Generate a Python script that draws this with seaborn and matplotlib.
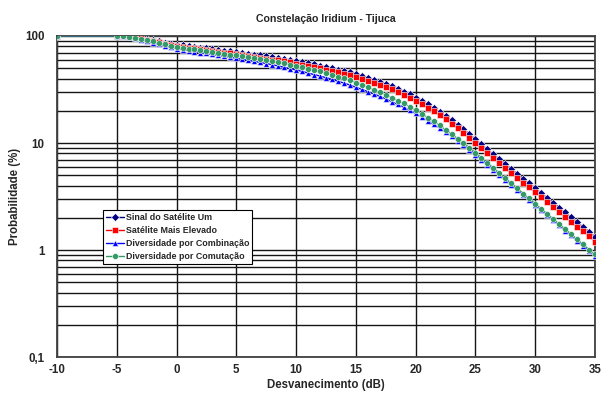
import numpy as np
import pandas as pd
import matplotlib
matplotlib.use("Agg")
import matplotlib.pyplot as plt
from matplotlib.ticker import FixedLocator, FixedFormatter, LogLocator, NullFormatter
import seaborn as sns

# Fade depth (dB): -10, then every 0.5 dB from -5 to 35
fade_db = [-10.0] + [-5.0 + 0.5 * i for i in range(81)]

sinal_um = [100.0,
    100.0, 99.8, 99.1, 97.7, 96.0, 93.5, 91.2, 88.9, 86.9, 84.9,
    83.2, 81.8, 80.5, 79.3, 78.0, 76.7, 75.5, 74.3, 73.1, 71.9,
    70.8, 69.5, 68.2, 67.0, 65.8, 64.6, 63.4, 62.2, 61.0, 59.7,
    58.3, 57.0, 55.6, 54.2, 52.8, 51.4, 50.0, 48.5, 47.1, 45.6,
    44.2, 42.5, 40.7, 39.0, 37.3, 35.6, 33.9, 32.0, 30.2, 28.4,
    26.6, 24.7, 22.9, 21.1, 19.5, 17.9, 16.3, 14.8, 13.4, 12.1,
    10.8, 9.7, 8.71, 7.83, 7.05, 6.34, 5.70, 5.14, 4.63, 4.19,
    3.78, 3.40, 3.07, 2.77, 2.49, 2.25, 2.02, 1.82, 1.64, 1.48,
    1.33]

mais_elevado = [100.0,
    100.0, 99.8, 98.9, 97.1, 95.1, 92.2, 89.5, 87.0, 84.7, 82.6,
    80.7, 79.3, 77.9, 76.6, 75.2, 73.8, 72.6, 71.3, 70.0, 68.8,
    67.6, 66.3, 65.0, 63.9, 62.7, 61.5, 60.3, 59.1, 57.9, 56.7,
    55.3, 54.0, 52.7, 51.3, 49.9, 48.6, 47.2, 45.8, 44.4, 43.0,
    41.6, 40.0, 38.3, 36.7, 35.0, 33.4, 31.8, 30.0, 28.3, 26.6,
    24.9, 23.1, 21.4, 19.7, 18.1, 16.6, 15.1, 13.7, 12.4, 11.2,
    9.96, 8.95, 8.04, 7.22, 6.50, 5.85, 5.26, 4.74, 4.27, 3.87,
    3.49, 3.13, 2.82, 2.54, 2.28, 2.05, 1.84, 1.65, 1.49, 1.34,
    1.20]

combinacao = [100.0,
    100.0, 99.2, 97.9, 95.6, 92.7, 89.7, 86.7, 83.6, 80.9, 78.5,
    76.4, 74.6, 73.1, 71.6, 70.1, 68.8, 67.4, 66.0, 64.7, 63.3,
    62.0, 60.6, 59.2, 58.0, 56.6, 55.3, 53.9, 52.5, 51.1, 49.6,
    48.1, 46.7, 45.1, 43.6, 42.2, 40.8, 39.4, 37.8, 36.3, 34.8,
    33.2, 31.7, 30.2, 28.7, 27.3, 25.8, 24.4, 22.9, 21.6, 20.2,
    18.9, 17.5, 16.2, 14.9, 13.8, 12.6, 11.6, 10.5, 9.56, 8.67,
    7.80, 7.00, 6.28, 5.63, 5.04, 4.53, 4.06, 3.64, 3.26, 2.93,
    2.62, 2.35, 2.11, 1.89, 1.70, 1.52, 1.37, 1.22, 1.10, 0.98,
    0.885]

comutacao = [100.0,
    100.0, 99.5, 98.6, 96.8, 94.4, 91.8, 89.1, 86.3, 83.8, 81.5,
    79.4, 77.8, 76.4, 75.0, 73.6, 72.3, 71.0, 69.7, 68.4, 67.1,
    65.8, 64.6, 63.2, 62.1, 60.8, 59.6, 58.2, 56.9, 55.5, 54.0,
    52.5, 51.1, 49.5, 48.1, 46.6, 45.0, 43.5, 41.8, 40.2, 38.5,
    36.7, 35.0, 33.3, 31.6, 29.9, 28.2, 26.6, 24.9, 23.4, 21.8,
    20.3, 18.8, 17.3, 15.9, 14.6, 13.3, 12.2, 11.0, 10.0, 9.04,
    8.13, 7.29, 6.53, 5.85, 5.24, 4.70, 4.21, 3.77, 3.37, 3.03,
    2.71, 2.43, 2.18, 1.95, 1.75, 1.57, 1.41, 1.26, 1.13, 1.01,
    0.91]

series_names = ["Sinal do Satélite Um", "Satélite Mais Elevado",
                "Diversidade por Combinação", "Diversidade por Comutação"]
series_values = [sinal_um, mais_elevado, combinacao, comutacao]

x_ticks = [-10, -5, 0, 5, 10, 15, 20, 25, 30, 35]
y_ticks = [0.1, 1, 10, 100]
y_tick_labels = ["0,1", "1", "10", "100"]

df = pd.concat(
    [pd.DataFrame({"Desvanecimento": fade_db, "Probabilidade": vals, "Serie": name})
     for name, vals in zip(series_names, series_values)],
    ignore_index=True)

sns.set_style("white")
plt.rcParams["font.family"] = ["Liberation Sans", "DejaVu Sans"]
plt.rcParams["font.weight"] = "bold"
plt.rcParams["axes.unicode_minus"] = False

fig = plt.figure(figsize=(6.05, 4.05), dpi=100)
ax = fig.add_axes([57 / 605, 1 - 357 / 405, 538 / 605, 321 / 405])

palette = {series_names[0]: "#000080", series_names[1]: "#FF0000",
           series_names[2]: "#0000FF", series_names[3]: "#339966"}
markers = {series_names[0]: "D", series_names[1]: "s",
           series_names[2]: "^", series_names[3]: "o"}

sns.lineplot(data=df, x="Desvanecimento", y="Probabilidade", hue="Serie",
             style="Serie", hue_order=series_names, style_order=series_names,
             palette=palette, markers=markers, dashes=False,
             markersize=4.3, markeredgewidth=0.4, linewidth=1.0, ax=ax,
             zorder=3)

ax.set_yscale("log")
ax.set_xlim(-10, 35)
ax.set_ylim(0.1, 100)

ax.xaxis.set_major_locator(FixedLocator(x_ticks))
ax.yaxis.set_major_locator(FixedLocator(y_ticks))
ax.yaxis.set_major_formatter(FixedFormatter(y_tick_labels))
ax.yaxis.set_minor_locator(LogLocator(base=10, subs=np.arange(2, 10)))
ax.yaxis.set_minor_formatter(NullFormatter())

ax.grid(True, which="major", axis="x", color="#151515", linewidth=1.0)
ax.grid(True, which="both", axis="y", color="#151515", linewidth=1.0)
ax.set_axisbelow(True)

for side in ["left", "bottom", "right", "top"]:
    ax.spines[side].set_color("#404040")
    ax.spines[side].set_linewidth(1.3)

ax.tick_params(axis="both", which="major", labelsize=8.3, length=3,
               color="#202020", width=0.8)
ax.tick_params(axis="y", which="minor", length=0)
ax.tick_params(axis="y", which="major", pad=6)
ax.tick_params(axis="x", which="major", pad=2)
for lab in ax.get_xticklabels() + ax.get_yticklabels():
    lab.set_fontweight("bold")

ax.set_xlabel("Desvanecimento (dB)", fontsize=8.3, fontweight="bold", labelpad=2)
ax.set_ylabel("Probabilidade (%)", fontsize=8.3, fontweight="bold", labelpad=3)
ax.set_title("Constelação Iridium - Tijuca", fontsize=7.6, fontweight="bold", pad=10)

leg = ax.legend(loc="lower left", bbox_to_anchor=(0.085, 0.29), fontsize=6.4,
                frameon=True, fancybox=False, edgecolor="#000000",
                framealpha=1.0, handlelength=2.0, handletextpad=0.25,
                borderpad=0.35, labelspacing=0.45, borderaxespad=0)
leg.get_frame().set_linewidth(0.8)
for t in leg.get_texts():
    t.set_fontweight("bold")

fig.savefig("out.png", dpi=100, facecolor="white")
